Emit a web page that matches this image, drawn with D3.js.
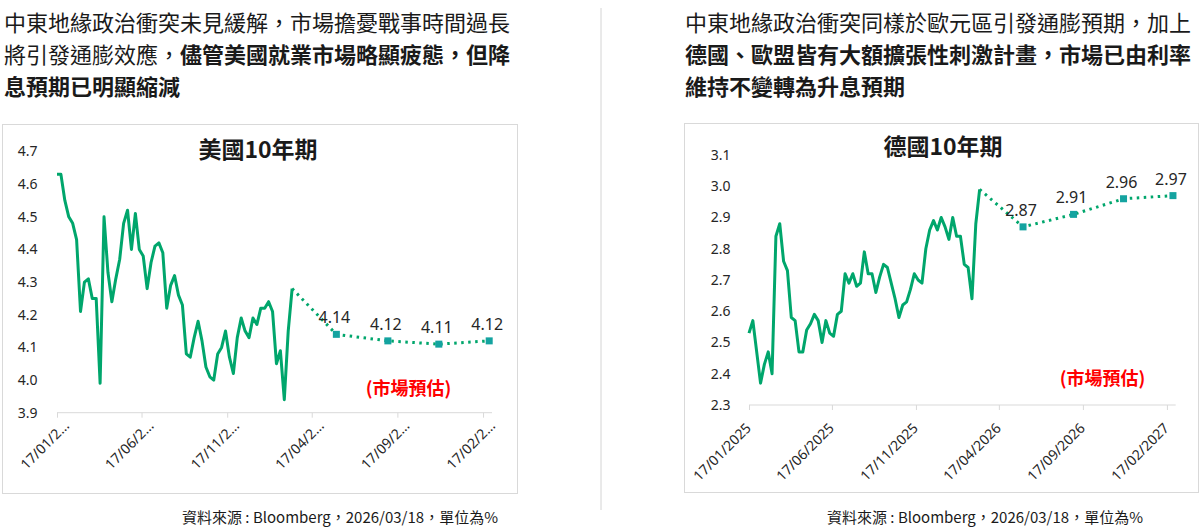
<!DOCTYPE html>
<html><head><meta charset="utf-8">
<script src="https://cdn.jsdelivr.net/npm/d3@7/dist/d3.min.js"></script>
<style>
html,body{margin:0;padding:0;background:#fff;}
svg{display:block;font-family:"Noto Sans","Noto Sans CJK TC",sans-serif;}
.cjk{font-family:"Noto Sans CJK TC","Noto Sans",sans-serif;}
</style></head>
<body><svg id="c" width="1204" height="532"></svg>
<script>
// ---------- data ----------
const startDate = "2025-01-17";           // first weekly observation (Friday)
const usValues = [4.63,4.63,4.55,4.50,4.48,4.43,4.21,4.30,4.31,4.25,4.25,3.99,4.50,4.33,4.24,4.31,4.37,4.48,4.52,4.40,4.51,4.40,4.38,4.28,4.36,4.41,4.42,4.39,4.22,4.29,4.32,4.26,4.23,4.08,4.07,4.13,4.18,4.12,4.04,4.01,4.00,4.08,4.10,4.15,4.07,4.02,4.13,4.19,4.15,4.13,4.19,4.17,4.22,4.22,4.24,4.21,4.05,4.09,3.94,4.15,4.28];
const deValues = [2.53,2.57,2.47,2.37,2.43,2.47,2.40,2.84,2.88,2.76,2.73,2.58,2.57,2.47,2.47,2.54,2.56,2.59,2.57,2.50,2.57,2.53,2.52,2.59,2.60,2.72,2.69,2.72,2.68,2.69,2.79,2.72,2.72,2.66,2.71,2.75,2.74,2.69,2.64,2.58,2.62,2.63,2.67,2.72,2.70,2.69,2.80,2.86,2.89,2.86,2.90,2.87,2.83,2.90,2.84,2.84,2.75,2.74,2.64,2.88,2.99];
const forecastDates = ["2026-05-31","2026-08-31","2026-11-30","2027-02-28"];
const usForecast = [4.14,4.12,4.11,4.12];
const deForecast = [2.87,2.91,2.96,2.97];
const tickDates = ["2025-01-17","2025-06-17","2025-11-17","2026-04-17","2026-09-17","2027-02-17"];
const usTickLabels = ["17/01/2…","17/06/2…","17/11/2…","17/04/2…","17/09/2…","17/02/2…"];
const deTickLabels = ["17/01/2025","17/06/2025","17/11/2025","17/04/2026","17/09/2026","17/02/2027"];
const usYTicks = [3.9,4.0,4.1,4.2,4.3,4.4,4.5,4.6,4.7];
const deYTicks = [2.3,2.4,2.5,2.6,2.7,2.8,2.9,3.0,3.1];
const axisEnd = "2027-03-05";
const leftHeading = [
  [["中東地緣政治衝突未見緩解，市場擔憂戰事時間過長",false]],
  [["將引發通膨效應，",false],["儘管美國就業市場略顯疲態，但降",true]],
  [["息預期已明顯縮減",true]]
];
const rightHeading = [
  [["中東地緣政治衝突同樣於歐元區引發通膨預期，加上",false]],
  [["德國、歐盟皆有大額擴張性刺激計畫，市場已由利率",true]],
  [["維持不變轉為升息預期",true]]
];
const sourceText = "資料來源 : Bloomberg，2026/03/18，單位為%";
const forecastNote = "(市場預估)";

// ---------- drawing ----------
const parse = d3.timeParse("%Y-%m-%d");
const t0 = parse(startDate);
const svg = d3.select("#c");
const GREEN = "#00a66c", TEAL = "#14a3a0", GRID = "#d9d9d9", TXT = "#262626";

// separator
svg.append("line").attr("x1",601).attr("x2",601).attr("y1",8).attr("y2",510)
  .attr("stroke","#d4d4d4").attr("stroke-width",1);

function heading(lines, x){
  lines.forEach((segs,i)=>{
    const t = svg.append("text").attr("class","cjk").attr("x",x).attr("y",30.5+i*32)
      .attr("font-size",22).attr("fill","#1a1a1a");
    segs.forEach(([s,b])=>t.append("tspan").attr("font-weight",b?700:400).text(s));
  });
}
heading(leftHeading, 4);
heading(rightHeading, 685);

function chart(o){
  const g = svg.append("g");
  g.append("rect").attr("x",o.box[0]+0.5).attr("y",o.box[1]+0.5)
    .attr("width",o.box[2]-o.box[0]).attr("height",o.box[3]-o.box[1])
    .attr("fill","#fff").attr("stroke",GRID);
  const x = d3.scaleTime().domain([t0, parse(axisEnd)]).range(o.xr);
  const y = d3.scaleLinear().domain([o.yt[0], o.yt[o.yt.length-1]]).range(o.yr);
  // x axis
  const ax = g.append("g").attr("transform",`translate(0,${o.yr[0]})`)
    .call(d3.axisBottom(x).tickValues(tickDates.map(parse)).tickSize(5).tickFormat(""));
  ax.select(".domain").attr("stroke",GRID).attr("d",`M${o.xr[0]},0H${o.xr[1]}`);
  ax.selectAll(".tick line").attr("stroke",GRID);
  tickDates.forEach((d,i)=>{
    g.append("text").attr("transform",`translate(${x(parse(d))+o.lx},${o.yr[0]+o.ly}) rotate(-45)`)
      .attr("text-anchor","end").attr("font-size",14).attr("fill",TXT).text(o.labels[i]);
  });
  // y labels
  o.yt.forEach(v=>{
    g.append("text").attr("x",o.yLabelX).attr("y",y(v)).attr("dy","0.35em")
      .attr("text-anchor","end").attr("font-size",14).attr("fill",TXT).text(v.toFixed(1));
  });
  // title
  g.append("text").attr("class","cjk").attr("x",o.title[1]).attr("y",o.title[2])
    .attr("text-anchor","middle").attr("font-size",23).attr("font-weight",700)
    .attr("fill","#1a1a1a").text(o.title[0]);
  // history line
  const hist = o.vals.map((v,i)=>({d:d3.timeDay.offset(t0,7*i),v}));
  const line = d3.line().x(d=>x(d.d)).y(d=>y(d.v));
  g.append("path").datum(hist).attr("d",line).attr("fill","none")
    .attr("stroke",GREEN).attr("stroke-width",3).attr("stroke-linejoin","round");
  // forecast
  const fc = o.fc.map((v,i)=>({d:parse(forecastDates[i]),v}));
  g.append("path").datum([hist[hist.length-1]].concat(fc)).attr("d",line).attr("fill","none")
    .attr("stroke",GREEN).attr("stroke-width",3).attr("stroke-dasharray","2.5 4.5");
  g.selectAll(".sq").data(fc).join("rect").attr("x",d=>x(d.d)-3.5).attr("y",d=>y(d.v)-3.5)
    .attr("width",7).attr("height",7).attr("fill",TEAL);
  g.selectAll(".lb").data(fc).join("text").attr("x",d=>x(d.d)-2).attr("y",d=>y(d.v)-11)
    .attr("text-anchor","middle").attr("font-size",16).attr("fill",TXT).text(d=>d.v.toFixed(2));
  g.append("text").attr("class","cjk").attr("x",o.note[0]).attr("y",o.note[1])
    .attr("text-anchor","middle").attr("font-size",18).attr("font-weight",700)
    .attr("fill","#ff0000").text(forecastNote);
  svg.append("text").attr("class","cjk").attr("x",o.src).attr("y",523)
    .attr("font-size",15).attr("fill","#1a1a1a").text(sourceText);
}

chart({box:[2,124,517,493], xr:[57,492], yr:[412.7,151.5], yt:usYTicks, vals:usValues, fc:usForecast,
  labels:usTickLabels, lx:13, ly:14, yLabelX:37.5, title:["美國10年期",258,158], note:[408.5,395], src:182});
chart({box:[684,123,1198,492], xr:[749,1175.7], yr:[405,155], yt:deYTicks, vals:deValues, fc:deForecast,
  labels:deTickLabels, lx:3, ly:24, yLabelX:730.5, title:["德國10年期",943,155], note:[1102.5,385], src:827});
</script></body></html>
